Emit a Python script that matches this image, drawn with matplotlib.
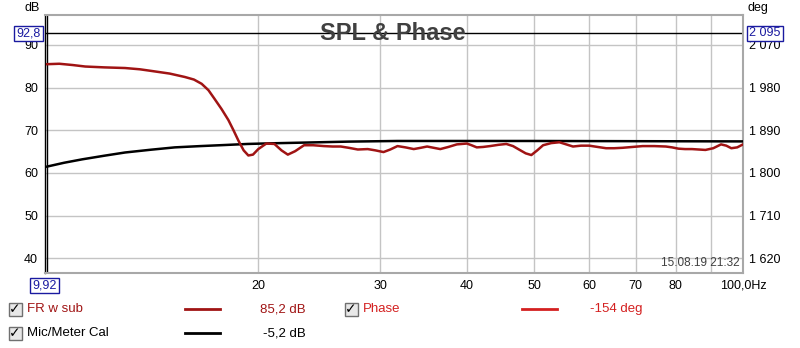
import numpy as np
import matplotlib.pyplot as plt
from matplotlib.patches import Rectangle
from matplotlib.ticker import FixedLocator, NullLocator

# FR w sub (Hz, dB)
fr_freq = [9.92, 10.33, 10.8, 11.26, 12.0, 12.85, 13.5, 14.05, 14.9, 15.67,
           16.15, 16.57, 16.95, 17.29, 17.7, 18.11, 18.42, 18.72, 19.05, 19.35,
           19.65, 20.0, 20.54, 21.1, 21.6, 22.06, 22.6, 23.28, 24.0, 24.87,
           25.6, 26.30, 27.0, 27.83, 28.76, 29.5, 30.31, 31.0, 31.75, 32.6,
           33.51, 34.3, 35.03, 35.8, 36.60, 37.6, 38.67, 39.98, 40.6, 41.31,
           42.2, 43.17, 44.4, 45.57, 46.6, 47.64, 48.6, 49.52, 50.5, 51.49,
           52.9, 54.36, 55.6, 56.86, 58.4, 60.0, 61.7, 63.47, 65.2, 67.04,
           69.3, 71.66, 74.5, 77.39, 79.0, 80.70, 82.5, 84.41, 86.3, 88.28,
           90.6, 92.97, 94.6, 96.2, 98.1, 100.0]
fr_db = [85.5, 85.6, 85.3, 84.95, 84.75, 84.6, 84.3, 83.9, 83.3, 82.5,
         81.9, 80.9, 79.4, 77.4, 75.0, 72.4, 70.0, 67.6, 65.3, 64.1,
         64.3, 65.6, 66.9, 66.8, 65.3, 64.3, 65.1, 66.5, 66.5, 66.3,
         66.2, 66.2, 65.9, 65.5, 65.6, 65.3, 64.9, 65.5, 66.3, 66.0,
         65.6, 65.9, 66.2, 65.9, 65.6, 66.1, 66.7, 66.9, 66.5, 66.0,
         66.1, 66.3, 66.6, 66.8, 66.3, 65.4, 64.6, 64.2, 65.3, 66.5,
         67.0, 67.2, 66.7, 66.2, 66.4, 66.4, 66.1, 65.8, 65.8, 65.9,
         66.1, 66.3, 66.3, 66.2, 66.0, 65.7, 65.6, 65.6, 65.5, 65.4,
         65.8, 66.7, 66.4, 65.8, 66.0, 66.7]

# Mic/Meter Cal
cal_freq = [9.92, 10.5, 11.15, 12.0, 12.85, 14.0, 15.16, 16.5, 17.88, 19.3,
            20.87, 23.0, 27.0, 31.75, 40.0, 50.0, 70.0, 100.0]
cal_db = [61.5, 62.4, 63.2, 64.05, 64.8, 65.45, 66.0, 66.3, 66.55, 66.8,
          66.95, 67.1, 67.35, 67.5, 67.5, 67.5, 67.45, 67.4]

x_ticks = [20, 30, 40, 50, 60, 70, 80, 100]
x_labels = ['20', '30', '40', '50', '60', '70', '80', '100,0Hz']
x_grid = [20, 30, 40, 50, 60, 70, 80, 90]
db_ticks = [40, 50, 60, 70, 80, 90]
deg_ticks = [1620, 1710, 1800, 1890, 1980, 2070]
deg_labels = ['1 620', '1 710', '1 800', '1 890', '1 980', '2 070']

legend_rows = [
    ('FR w sub', '#a01414', '85,2 dB'),
    ('Mic/Meter Cal', 'black', '-5,2 dB'),
]
phase_entry = ('Phase', '#d42020', '-154 deg')

plt.rcParams['font.family'] = ['Liberation Sans', 'DejaVu Sans']
W, H = 800, 348


def px(x, y):
    return x / W, 1 - y / H


fig = plt.figure(figsize=(8, 3.48), dpi=100)
ax = fig.add_axes([45 / W, 1 - 273 / H, 698 / W, 258 / H])

ax.set_xscale('log')
ax.set_xlim(9.85, 100)
db_lo, db_hi = 36.55, 97.03
ax.set_ylim(db_lo, db_hi)

ax.xaxis.set_major_locator(FixedLocator(x_ticks))
ax.xaxis.set_minor_locator(NullLocator())
ax.set_xticklabels(x_labels)
ax.set_yticks(db_ticks)
ax.tick_params(length=0, labelsize=9, pad=5)
for x in x_grid:
    ax.axvline(x, color='#c4c4c4', lw=1, zorder=0)
for y in db_ticks:
    ax.axhline(y, color='#c4c4c4', lw=1, zorder=0)

for s in ax.spines.values():
    s.set_color('#a8a8a8')
    s.set_linewidth(1.5)
ax.spines['left'].set_color('black')
ax.spines['left'].set_linewidth(1)

ax.plot(cal_freq, cal_db, color='black', lw=1.8, zorder=3, solid_joinstyle='round')
ax.plot(fr_freq, fr_db, color='#a01414', lw=1.8, zorder=4, solid_joinstyle='round')

# cursors
ax.axhline(92.8, color='black', lw=1, zorder=2)
ax.axvline(9.92, color='black', lw=1, zorder=2)

# phase axis on the right
ax2 = ax.twinx()
ax2.set_ylim(1620 + (db_lo - 40) * 9, 1620 + (db_hi - 40) * 9)
ax2.set_yticks(deg_ticks)
ax2.set_yticklabels(deg_labels)
ax2.tick_params(length=0, labelsize=9, pad=4)
for s in ax2.spines.values():
    s.set_visible(False)

ax.text(0.499, (92.8 - db_lo) / (db_hi - db_lo), 'SPL & Phase', transform=ax.transAxes,
        ha='center', va='center', fontsize=17, fontweight='bold', color='#404040', zorder=6)
ax.text(0.995, 0.015, '15.08.19 21:32', transform=ax.transAxes, ha='right', va='bottom',
        fontsize=8.5, color='#404040')

fig.text(*px(40, 8), 'dB', ha='right', va='center', fontsize=9)
fig.text(*px(748, 8), 'deg', ha='left', va='center', fontsize=9)

box = dict(boxstyle='square,pad=0.15', fc='white', ec='#1a1aa0', lw=1)
fig.text(*px(28.5, 33.5), '92,8', ha='center', va='center', fontsize=9, color='#1a1aa0', bbox=box)
fig.text(*px(765, 33.5), '2 095', ha='center', va='center', fontsize=9, color='#1a1aa0', bbox=box)
fig.text(*px(44.5, 285.5), '9,92', ha='center', va='center', fontsize=9, color='#1a1aa0', bbox=box)


def checkbox(x, y):
    fig.patches.append(Rectangle(px(x - 6.5, y + 6.5), 13 / W, 13 / H, transform=fig.transFigure,
                                 fc='#e8e8e8', ec='#707070', lw=1))
    fig.text(*px(x, y), '\u2713', ha='center', va='center', fontsize=10,
             fontweight='bold', color='black', family='DejaVu Sans')


def legend_entry(x0, y, name, color, value, line_x, val_x):
    checkbox(x0 + 7, y)
    fig.text(*px(x0 + 19, y), name, ha='left', va='center', fontsize=9.5, color=color)
    fig.lines.append(plt.Line2D([line_x / W, (line_x + 35) / W], [1 - y / H] * 2,
                                transform=fig.transFigure, color=color, lw=2))
    fig.text(*px(val_x, y), value, ha='right', va='center', fontsize=9.5, color=color)


for i, (name, color, value) in enumerate(legend_rows):
    legend_entry(8, 309 + 24 * i, name, color, value, 185, 306)
legend_entry(344, 309, *phase_entry, 522, 643)

fig.savefig('out.png', dpi=100)
